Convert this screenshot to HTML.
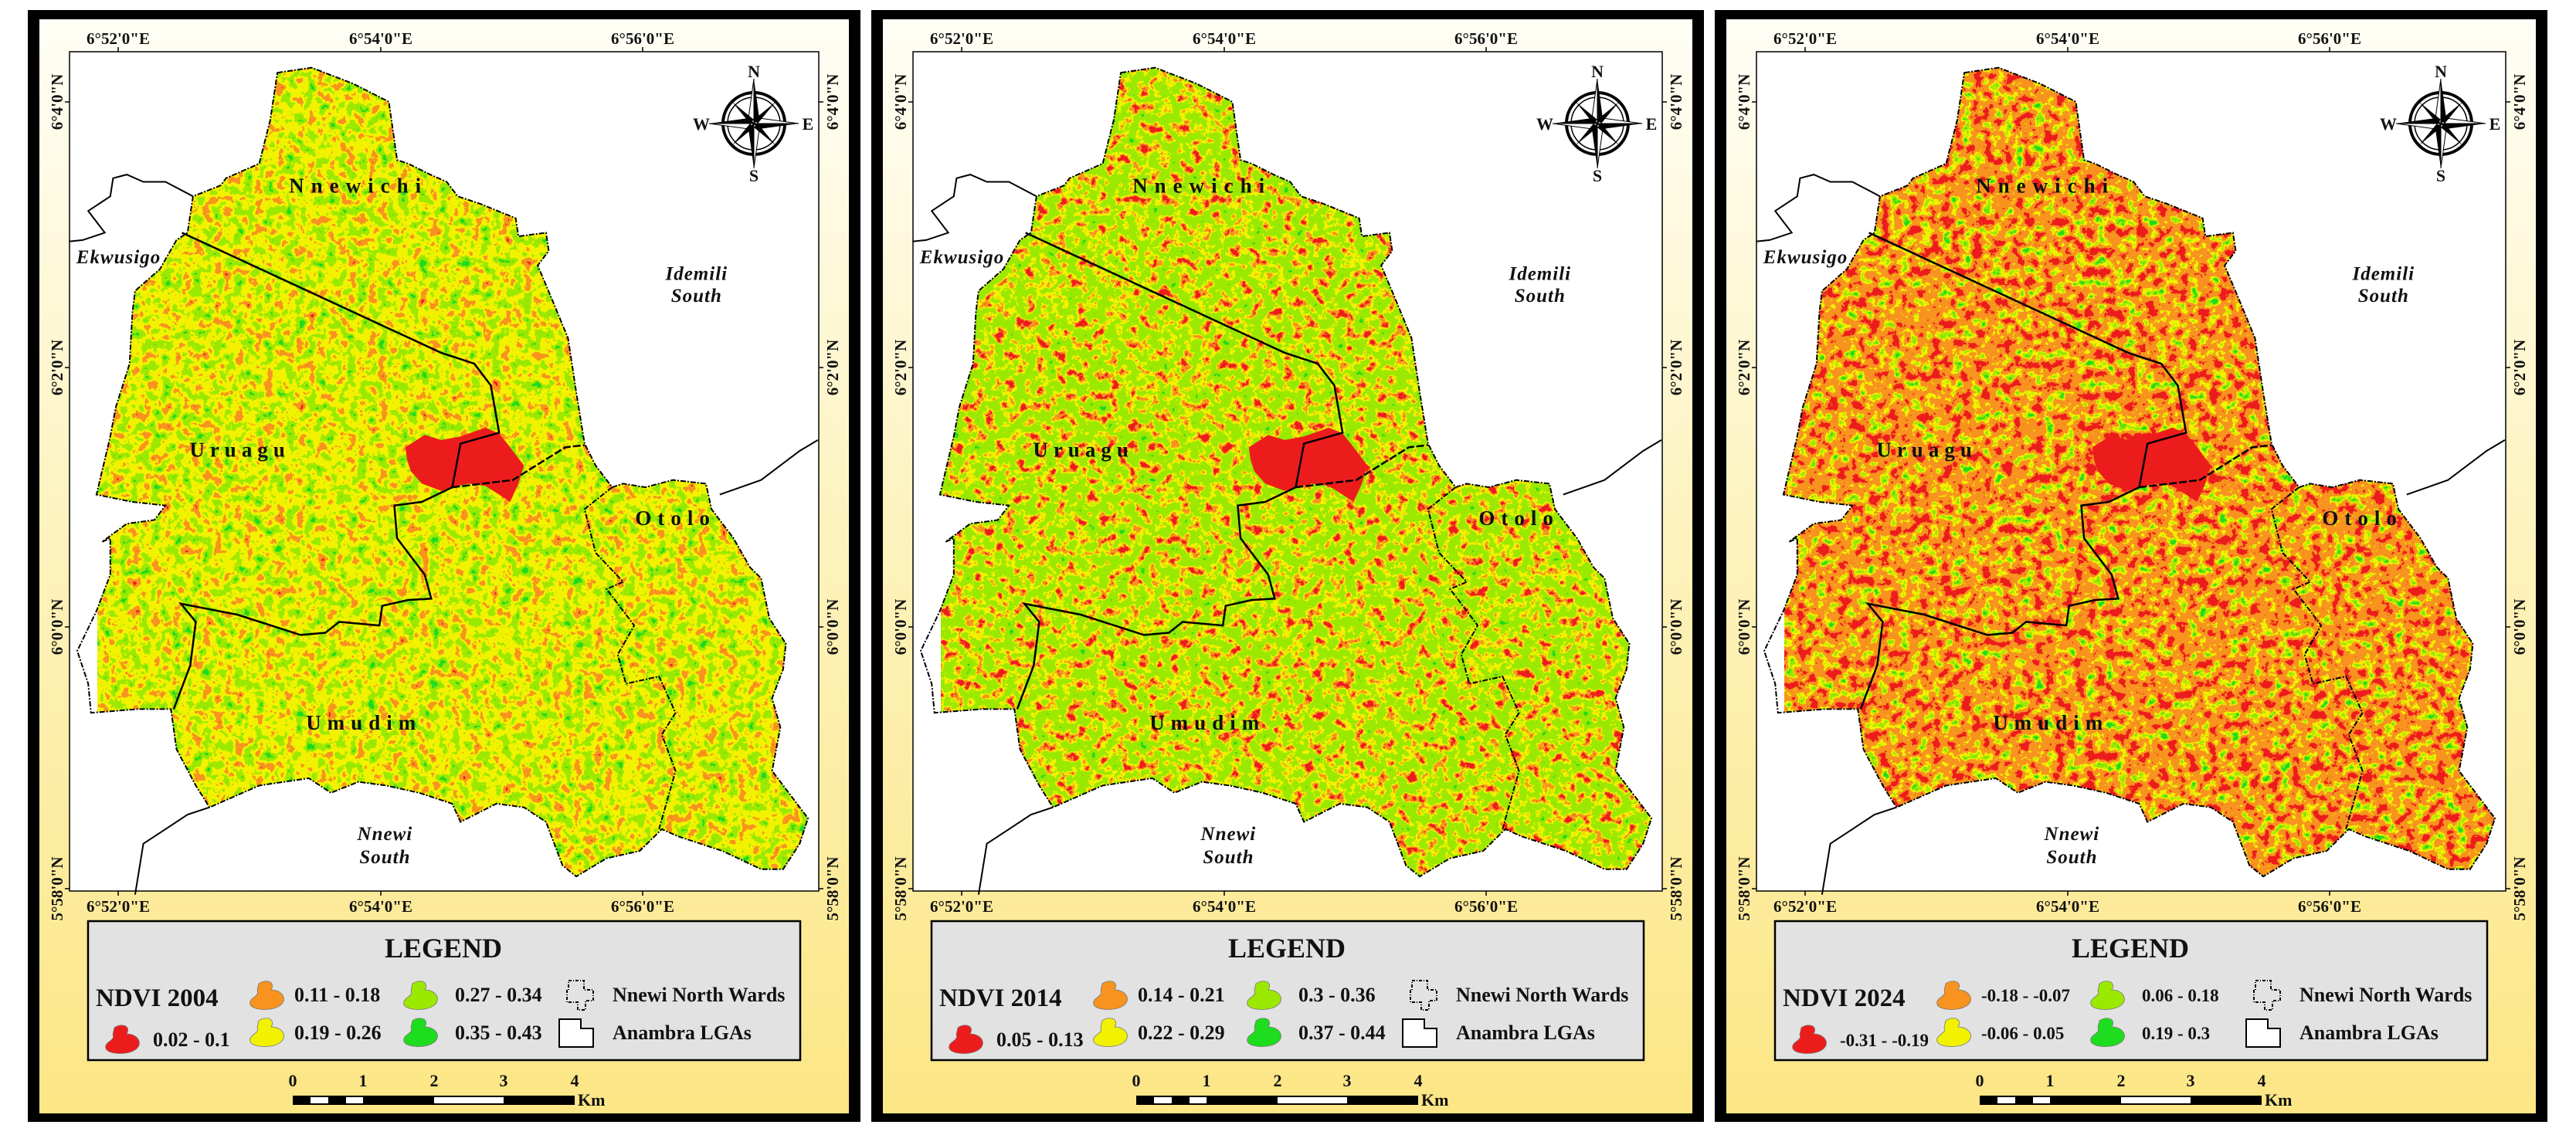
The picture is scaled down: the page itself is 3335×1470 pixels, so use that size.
<!DOCTYPE html>
<html><head><meta charset="utf-8">
<style>
html,body{margin:0;padding:0;background:#fff;}
svg{display:block;}
text{font-family:"Liberation Serif",serif;font-weight:bold;fill:#111;}
</style></head>
<body>
<svg id="s" width="3335" height="1470" viewBox="0 0 3335 1470" xmlns="http://www.w3.org/2000/svg"></svg>
<script>
const Z=p=>[(p[0]*0.714-36).toFixed(1),(p[1]*0.942).toFixed(1)];
const P=a=>a.map(p=>Z(p).join(',')).join(' ');
const outline=[[503,100],[565,93],[640,115],[700,138],[705,140],[720,220],[740,225],[780,240],[810,250],[830,270],[870,280],[935,300],[940,325],[990,320],[995,345],[975,365],[1000,410],[1030,465],[1045,540],[1060,610],[1080,640],[1110,670],[1130,665],[1170,670],[1220,660],[1280,665],[1290,700],[1330,740],[1360,780],[1380,795],[1395,850],[1425,885],[1420,920],[1400,960],[1415,1000],[1400,1060],[1440,1100],[1465,1125],[1450,1160],[1420,1195],[1380,1195],[1310,1170],[1230,1150],[1200,1140],[1160,1170],[1100,1180],[1045,1205],[1020,1190],[990,1130],[950,1110],[900,1105],[835,1130],[820,1105],[760,1090],[700,1080],[650,1075],[600,1090],[560,1070],[470,1080],[380,1110],[355,1080],[320,1030],[310,975],[250,975],[165,980],[160,940],[140,895],[175,840],[200,790],[200,740],[185,745],[230,720],[280,715],[300,695],[240,690],[175,680],[200,600],[210,560],[235,500],[240,430],[245,400],[290,370],[320,330],[340,320],[350,270],[400,255],[410,245],[470,225],[490,165]];
const w1=[[330,320],[800,485],[860,500],[890,530],[905,595],[835,610],[820,670],[765,690],[715,695],[720,740],[770,790],[782,823],[740,825],[693,833],[688,860],[615,855],[590,870],[545,873],[430,845],[328,830],[355,855],[345,915],[315,975]];
const w2=[[820,670],[930,660],[1025,615],[1060,612]];
const otolo=[[1110,670],[1060,700],[1080,760],[1130,800],[1100,810],[1150,860],[1120,900],[1135,940],[1195,930],[1225,980],[1200,1010],[1225,1060],[1195,1140]];
const ekw=[[125,332],[150,330],[190,320],[160,290],[200,270],[205,245],[230,240],[260,250],[300,250],[350,270]];
const rt=[[1305,680],[1380,660],[1450,620],[1483,605]];
const bt=[[245,1230],[260,1160],[300,1140],[340,1120],[380,1110]];
const city=[[735,615],[770,598],[800,605],[835,600],[880,588],[905,596],[925,615],[950,640],[940,665],[925,690],[905,680],[880,668],[850,665],[830,668],[800,675],[765,665],[745,648],[738,632]];
const C={R:[0.93,0.11,0.11],O:[0.97,0.58,0.12],Y:[0.95,0.95,0],L:[0.61,0.91,0],G:[0.12,0.86,0.12]};
const panels=[
 {L:36,yr:'2004',seed:3,off:0.04,tab:'RROOYYLLGG',fs:26,lab:['0.02 - 0.1','0.11 - 0.18','0.19 - 0.26','0.27 - 0.34','0.35 - 0.43']},
 {L:1128,yr:'2014',seed:7,off:0,tab:'RRROYLLLGG',fs:26,lab:['0.05 - 0.13','0.14 - 0.21','0.22 - 0.29','0.3 - 0.36','0.37 - 0.44']},
 {L:2220,yr:'2024',seed:11,off:0.02,tab:'RRRROOYLGG',fs:23,lab:['-0.31 - -0.19','-0.18 - -0.07','-0.06 - 0.05','0.06 - 0.18','0.19 - 0.3']}];
const cols=['#ed1c1c','#f7931e','#f2f200','#9be800','#1edc1e'];
function blob(x,y,c){return `<path transform="translate(${x},${y})" d="M14,4 C24,-3 36,2 30,12 C44,12 52,24 42,32 C32,40 6,39 3,31 C0,22 16,21 12,13 Z" fill="${c}" stroke="#777" stroke-width="0.8"/>`;}
let h=`<defs><linearGradient id="bg" x1="0" y1="0" x2="0" y2="1"><stop offset="0" stop-color="#fffef6"/><stop offset="0.45" stop-color="#fdf3c0"/><stop offset="1" stop-color="#fce685"/></linearGradient>`;
panels.forEach((p,i)=>{
 const g=1, b=(p.off).toFixed(3);
 const tv=k=>p.tab.split('').map(ch=>C[ch][k]).join(' ');
 h+=`<clipPath id="c${i}"><polygon points="${P(outline)}"/></clipPath>
<filter id="f${i}" x="0" y="0" width="1" height="1" color-interpolation-filters="sRGB">
<feTurbulence type="fractalNoise" baseFrequency="0.075" numOctaves="4" seed="${p.seed}"/>
<feColorMatrix type="matrix" values="${g} 0 0 0 ${b}  ${g} 0 0 0 ${b}  ${g} 0 0 0 ${b}  0 0 0 0 1"/>
<feComponentTransfer><feFuncR type="discrete" tableValues="${tv(0)}"/><feFuncG type="discrete" tableValues="${tv(1)}"/><feFuncB type="discrete" tableValues="${tv(2)}"/></feComponentTransfer></filter>`;
});
h+=`</defs>`;
panels.forEach((p,i)=>{
 h+=`<g transform="translate(${p.L},0)">
<rect x="0" y="13" width="1078" height="1440" fill="#000"/>
<rect x="15" y="25" width="1048" height="1417" fill="url(#bg)"/>
<rect x="54" y="67" width="970" height="1087" fill="#fff" stroke="#000" stroke-width="1.5"/>
<g clip-path="url(#c${i})"><rect x="90" y="80" width="970" height="1070" filter="url(#f${i})"/>
<polygon points="${P(city)}" fill="#ed1c1c"/></g>
<polyline points="${P(ekw)}" fill="none" stroke="#000" stroke-width="2"/>
<polyline points="${P(rt)}" fill="none" stroke="#000" stroke-width="2"/>
<polyline points="${P(bt)}" fill="none" stroke="#000" stroke-width="2"/>
<polygon points="${P(outline)}" fill="none" stroke="#000" stroke-width="2" stroke-dasharray="7 2 2 2"/>
<polyline points="${P(w1)}" fill="none" stroke="#000" stroke-width="2.5"/>
<polyline points="${P(w2)}" fill="none" stroke="#000" stroke-width="2.5" stroke-dasharray="10 3"/>
<polyline points="${P(otolo)}" fill="none" stroke="#000" stroke-width="2" stroke-dasharray="7 2 2 2"/>`;
 const t=(zx,zy,s,txt,ex)=>{const q=Z([zx,zy]);h+=`<text x="${q[0]}" y="${q[1]}" font-size="${s}" text-anchor="middle" ${ex||''}>${txt}</text>`;};
 t(650,265,27,'Nnewichi','letter-spacing="9"');
 t(215,362,25,'Ekwusigo','font-style="italic" letter-spacing="1"');
 t(1263,385,25,'Idemili','font-style="italic" letter-spacing="1"');
 t(1263,415,25,'South','font-style="italic" letter-spacing="1"');
 t(435,628,27,'Uruagu','letter-spacing="7"');
 t(1225,722,27,'Otolo','letter-spacing="8"');
 t(660,1003,27,'Umudim','letter-spacing="8"');
 t(698,1155,25,'Nnewi','font-style="italic" letter-spacing="1"');
 t(698,1187,25,'South','font-style="italic" letter-spacing="1"');
 [[117,'6°52\'0"E'],[457,'6°54\'0"E'],[796,'6°56\'0"E']].forEach(a=>{
  h+=`<line x1="${a[0]}" y1="67" x2="${a[0]}" y2="61" stroke="#000" stroke-width="1.5"/><line x1="${a[0]}" y1="1154" x2="${a[0]}" y2="1160" stroke="#000" stroke-width="1.5"/>`;
  h+=`<text x="${a[0]}" y="57" font-size="21" text-anchor="middle" font-weight="normal">${a[1]}</text><text x="${a[0]}" y="1181" font-size="21" text-anchor="middle" font-weight="normal">${a[1]}</text>`;});
 [[132,'6°4\'0"N'],[476,'6°2\'0"N'],[812,'6°0\'0"N'],[1151,'5°58\'0"N']].forEach(a=>{
  h+=`<line x1="54" y1="${a[0]}" x2="48" y2="${a[0]}" stroke="#000" stroke-width="1.5"/><line x1="1024" y1="${a[0]}" x2="1030" y2="${a[0]}" stroke="#000" stroke-width="1.5"/>`;
  h+=`<text transform="translate(45,${a[0]}) rotate(-90)" font-size="21" text-anchor="middle" font-weight="normal">${a[1]}</text>`;
  h+=`<text transform="translate(1049,${a[0]}) rotate(-90)" font-size="21" text-anchor="middle" font-weight="normal">${a[1]}</text>`;});
 const cx=940,cy=160;
 h+=`<g transform="translate(${cx},${cy})"><circle r="40" fill="none" stroke="#000" stroke-width="4"/><circle r="34" fill="none" stroke="#000" stroke-width="1.5"/>
<polygon points="0,-58 7,-7 0,0" fill="#000"/><polygon points="0,-58 -7,-7 0,0" fill="#fff" stroke="#000"/>
<polygon points="0,58 -7,7 0,0" fill="#000"/><polygon points="0,58 7,7 0,0" fill="#fff" stroke="#000"/>
<polygon points="58,0 7,7 0,0" fill="#000"/><polygon points="58,0 7,-7 0,0" fill="#fff" stroke="#000"/>
<polygon points="-58,0 -7,-7 0,0" fill="#000"/><polygon points="-58,0 -7,7 0,0" fill="#fff" stroke="#000"/>
<polygon points="28,-28 5,0 0,-5" fill="#000"/><polygon points="-28,-28 0,-5 -5,0" fill="#000"/><polygon points="28,28 0,5 5,0" fill="#000"/><polygon points="-28,28 -5,0 0,5" fill="#000"/>
<text x="0" y="-60" font-size="22" text-anchor="middle" font-weight="normal">N</text><text x="0" y="75" font-size="22" text-anchor="middle" font-weight="normal">S</text>
<text x="-68" y="8" font-size="22" text-anchor="middle" font-weight="normal">W</text><text x="70" y="8" font-size="22" text-anchor="middle" font-weight="normal">E</text></g>`;
 h+=`<rect x="78" y="1193" width="922" height="180" fill="#e2e2e2" stroke="#000" stroke-width="2.5"/>
<text x="538" y="1240" font-size="36" text-anchor="middle">LEGEND</text>
<text x="88" y="1303" font-size="33">NDVI ${p.yr}</text>`;
 h+=blob(98,1327,cols[0])+blob(285,1270,cols[1])+blob(285,1318,cols[2])+blob(484,1270,cols[3])+blob(484,1318,cols[4]);
 const f=p.fs;
 h+=`<text x="162" y="1355" font-size="${f}">${p.lab[0]}</text><text x="345" y="1297" font-size="${f}">${p.lab[1]}</text><text x="345" y="1346" font-size="${f}">${p.lab[2]}</text><text x="553" y="1297" font-size="${f}">${p.lab[3]}</text><text x="553" y="1346" font-size="${f}">${p.lab[4]}</text>`;
 h+=`<path d="M700,1270 h20 v12 h12 v14 h-10 v12 h-10 v-10 h-14 v-16 h2 z" fill="none" stroke="#000" stroke-width="2" stroke-dasharray="4 2 1 2"/>
<path d="M688,1320 h28 v12 h16 v24 h-44 z" fill="#fff" stroke="#000" stroke-width="2"/>
<text x="757" y="1297" font-size="26">Nnewi North Wards</text><text x="757" y="1346" font-size="26">Anambra LGAs</text>`;
 h+=`<rect x="343" y="1419" width="365" height="12" fill="#000"/><rect x="366" y="1421" width="23" height="8" fill="#fff"/><rect x="412" y="1421" width="22" height="8" fill="#fff"/><rect x="526" y="1421" width="90" height="8" fill="#fff"/>`;
 [343,434,526,616,708].forEach((x,k)=>{h+=`<text x="${x}" y="1407" font-size="22" text-anchor="middle">${k}</text>`;});
 h+=`<text x="712" y="1432" font-size="22">Km</text></g>`;
});
document.getElementById('s').innerHTML=h;
</script>
</body></html>
